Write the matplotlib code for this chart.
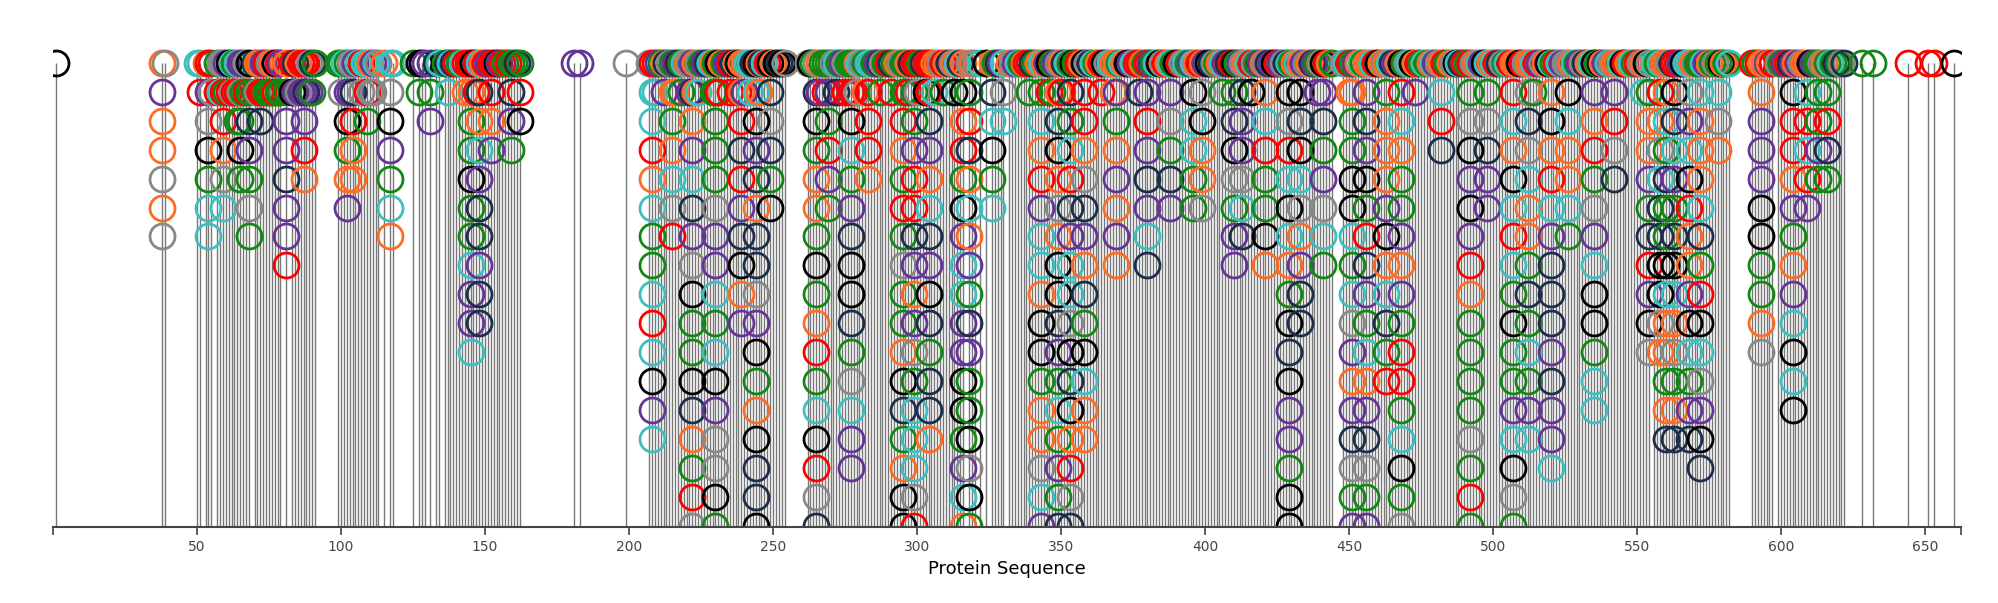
import matplotlib
matplotlib.use("Agg")
from matplotlib import pyplot as plt

# colour codes used in the stacks below
palette = {
    "K": "#000000", "O": "#ff6b22", "T": "#3bbfbf", "P": "#663399",
    "G": "#888888", "N": "#118811", "R": "#ff0000", "D": "#1c2e4a",
}

# tall stacks: position -> circle colours from top row downwards
stacks = {
    1: "K", 38: "OPOOGOG", 39: "G",
    54: "RPGKNTT", 59: "GRROGT", 64: "TRN", 65: "PGNKN", 68: "KNDPNGN", 72: "ORD",
    81: "ONPPDPPR", 87: "RPPRO",
    102: "NPKNOP", 104: "GDROO", 109: "TRN", 117: "TGKPNTO",
    127: "KN", 131: "PNP", 137: "DT",
    145: "RONNKNNTPPT", 148: "TDOTPDDPDD", 152: "RROP", 159: "NDPN",
    181: "P", 183: "P", 199: "G",
    208: "RTTROTNNTRTKPT", 215: "NONOTGR", 222: "PDOPTDPGKNNKDONRG",
    230: "NNNNNGPPTNTKPGGKN", 239: "OORDRPDKOP", 244: "KTKPDODDGPKNOKDDK",
    249: "KDGDNK", 265: "GDKNOONKNORNTKRGD", 269: "NPNRPN",
    277: "NRKTNPDKKDNGTPP", 283: "TRRRO", 295: "NNRONRNGNNOKDNOKK",
    299: "RNNPRRDPOPGNTTTGR", 304: "RRDPOTDPKDNDDO",
    316: "OKORNKPTTPPKKNPTO", 318: "GNRDOTOPNDPNNKGKN",
    326: "ODTKNT", 330: "TGT", 343: "TNTORPTTOKKNOOGTP",
    349: "GODKOGOKKDPNTNPND", 353: "NDNTRDPTTGKDKORGD", 358: "KRROGDPODNKTOO",
    369: "OPNOPOPO", 380: "RPRPDPTD", 388: "TPGNDP", 396: "TKTTNN", 399: "OGKOOG",
    410: "KNDKGNPP", 413: "GDPPGTD", 421: "GOTRNNKO",
    429: "TKGRTKTONKDKPPNKK", 433: "OKDKTGOPDD", 441: "KPDNPGTN",
    451: "NONNKKTNTGPOPDGNP", 456: "OPDPKNRDPNTOPDGNP", 463: "ONOOOPKOTDNR",
    468: "KRTONNPOPNRRNTKNG", 482: "OTRD", 492: "RNGKPKPRONNNNGNRN", 498: "TNGDPP",
    507: "ORTOKTRTNKNNPTKGN", 512: "OGDGTOONDNTNPT", 520: "TOKORTPDDDPDPPT",
    526: "GKTOOTN", 535: "KPORNGPTKKNTT", 542: "OPRGD",
    554: "GNOOPNDRPKG", 558: "TROGTDDKKGO", 560: "OOTNDNNKTOONOD",
    563: "RKDTPNDKTOGNOD", 568: "TGPTKROOPKTNPD", 572: "NTOOOTDNRKTGPKD",
    578: "NTGO", 593: "OOPPPKKNNOG", 604: "PKRROPNOPTKTK", 609: "OTRTRP",
    613: "NNNPN", 616: "NNRDN", 622: "D", 628: "N", 632: "N",
    644: "R", 651: "R", 653: "R", 660: "K",
}

# short stacks filling the dense stretches
fillers = {
    50: "T", 51: "TR", 53: "O", 55: "RG", 57: "NR", 58: "GT", 60: "PN", 61: "KR",
    62: "TG", 63: "NR", 66: "PN", 67: "GR", 70: "DN", 71: "OG", 73: "PR", 74: "RN",
    75: "GN", 76: "ON", 77: "KR", 78: "RN", 79: "PN", 83: "RK", 84: "DP", 85: "OG",
    86: "RP", 88: "RD", 89: "GP", 90: "DN", 91: "N",
    99: "N", 100: "NG", 101: "T", 103: "GP", 105: "P", 106: "T", 107: "RG", 108: "T",
    110: "OG", 111: "PG", 112: "T", 113: "G", 115: "O", 118: "T",
    125: "N", 128: "K", 129: "P", 133: "D", 134: "T", 136: "N", 138: "T", 139: "D",
    140: "R", 141: "N", 142: "T", 143: "RO", 144: "R", 146: "K", 147: "RR", 149: "O",
    150: "R", 151: "P", 153: "R", 154: "K", 155: "P", 156: "R", 157: "N", 158: "R",
    160: "N", 161: "D", 162: "NRK",
    207: "G", 209: "RT", 210: "P", 211: "N", 212: "OP", 213: "D", 214: "G", 216: "PO",
    217: "D", 218: "NN", 219: "T", 220: "O", 221: "GP", 223: "OO", 224: "GT", 225: "N",
    226: "P", 227: "D", 228: "T", 229: "ON", 231: "KR", 232: "O", 233: "N", 234: "P",
    235: "RR", 236: "D", 237: "O", 238: "KR", 240: "OP", 241: "T", 242: "TT", 243: "D",
    245: "OO", 246: "D", 247: "T", 248: "R", 250: "O", 251: "K", 252: "D", 253: "K",
    254: "G", 262: "G", 263: "K", 264: "N", 266: "OP", 267: "N", 268: "NR", 270: "N",
    271: "G", 272: "TD", 273: "N", 274: "P", 275: "GR", 276: "N", 278: "NR", 279: "OG",
    280: "T", 281: "G", 282: "NO", 284: "T", 285: "N", 286: "P", 287: "DN", 288: "G",
    289: "N", 290: "R", 291: "DR", 292: "N", 293: "O", 294: "G", 296: "NN", 297: "OR",
    298: "D", 300: "RG", 301: "N", 302: "D", 303: "RK", 305: "R", 306: "OT", 307: "O",
    308: "G", 309: "RN", 310: "O", 311: "D", 312: "G", 313: "OK", 314: "T", 315: "D",
    319: "O", 320: "G", 322: "T", 324: "K", 327: "N", 328: "D", 329: "P", 332: "O",
    333: "G", 334: "P", 335: "T", 336: "N", 337: "O", 338: "R", 339: "RN", 340: "D",
    341: "N", 342: "O", 344: "O", 345: "P", 346: "KR", 347: "NN", 348: "P", 350: "OR",
    351: "D", 352: "T", 354: "K", 355: "N", 356: "R", 357: "O", 359: "G", 360: "D",
    361: "T", 362: "N", 363: "O", 364: "RR", 365: "K", 366: "G", 367: "T", 368: "OO",
    370: "N", 371: "T", 372: "O", 373: "K", 374: "P", 375: "T", 376: "R", 377: "RD",
    378: "O", 379: "N", 381: "P", 382: "N", 383: "T", 384: "K", 385: "G", 386: "R",
    387: "O", 389: "N", 390: "K", 391: "R", 392: "G", 393: "T", 394: "N", 395: "P",
    397: "O", 398: "R", 400: "P", 401: "K", 402: "D", 403: "G", 404: "N", 405: "O",
    406: "TN", 407: "P", 408: "D", 409: "R", 411: "N", 412: "P", 414: "O", 415: "T",
    416: "RK", 417: "G", 418: "N", 419: "P", 420: "O", 422: "D", 423: "P", 424: "K",
    425: "R", 426: "P", 427: "G", 428: "D", 430: "N", 431: "O", 432: "T", 434: "P",
    435: "G", 436: "O", 437: "D", 438: "P", 439: "NP", 440: "G", 442: "R", 443: "O",
    444: "N", 448: "G", 449: "T", 450: "RO", 452: "P", 453: "O", 454: "T", 455: "N",
    457: "O", 458: "T", 459: "R", 460: "K", 461: "O", 462: "G", 464: "T", 465: "D",
    466: "P", 467: "O", 469: "N", 470: "G", 471: "T", 472: "K", 473: "OP", 474: "R",
    475: "N", 476: "T", 477: "N", 478: "O", 479: "T", 480: "P", 481: "G", 483: "R",
    484: "N", 485: "O", 486: "G", 487: "K", 488: "T", 489: "D", 490: "R", 491: "N",
    493: "G", 494: "O", 495: "T", 496: "P", 497: "K", 499: "O", 500: "T", 501: "R",
    502: "D", 503: "G", 504: "N", 505: "T", 506: "R", 508: "O", 509: "K", 510: "R",
    511: "G", 513: "O", 514: "TN", 515: "R", 516: "P", 517: "G", 518: "O", 519: "K",
    521: "N", 522: "R", 523: "T", 524: "P", 525: "G", 527: "O", 528: "T", 529: "N",
    530: "P", 531: "G", 532: "D", 533: "O", 534: "T", 536: "N", 537: "K", 538: "O",
    539: "P", 540: "T", 541: "G", 543: "O", 544: "T", 545: "K", 546: "R", 547: "O",
    548: "T", 549: "N", 550: "R", 551: "G", 552: "OT", 553: "K", 556: "T", 557: "N",
    559: "O", 561: "G", 562: "D", 564: "R", 565: "P", 566: "K", 567: "T", 569: "O",
    570: "G", 571: "N", 573: "T", 574: "P", 575: "O", 576: "N", 577: "G", 579: "K",
    580: "O", 581: "N", 582: "T", 590: "R", 591: "N", 592: "R", 594: "O", 595: "P",
    596: "O", 597: "R", 599: "G", 600: "N", 601: "P", 602: "R", 603: "D", 605: "O",
    606: "P", 607: "G", 608: "O", 610: "K", 611: "P", 612: "N", 614: "G", 615: "O",
    617: "T", 618: "N", 619: "D", 620: "N", 621: "G",
}

x_ticks = [50, 100, 150, 200, 250, 300, 350, 400, 450, 500, 550, 600, 650]
x_max = 662.5
y_floor = -16.05

all_stacks = dict(fillers)
all_stacks.update(stacks)

fig = plt.figure(figsize=(19.99, 6.03), dpi=100)
ax = fig.add_axes([0.0265, 0.126, 0.9545, 0.808])

positions = sorted(all_stacks)
ax.vlines(positions, y_floor, 0, color="#777777", linewidth=1.0, zorder=1)

for pos in positions:
    for row, code in enumerate(all_stacks[pos]):
        ax.plot(pos, -row, marker="o", markersize=18, fillstyle="none",
                markeredgewidth=2.0, color=palette[code], zorder=2)

ax.set_xlim(0, x_max)
ax.set_ylim(y_floor, 0.8)
for side in ["left", "right", "top"]:
    ax.spines[side].set_visible(False)
ax.spines["bottom"].set_color("#444444")
ax.spines["bottom"].set_linewidth(1.5)
ax.set_yticks([])
ax.set_xticks([0] + x_ticks + [x_max])
ax.set_xticklabels([""] + [str(t) for t in x_ticks] + [""], fontsize=10, color="#444444")
ax.tick_params(axis="x", length=6, width=1.2, color="#444444")
ax.set_xlabel("Protein Sequence", fontsize=13, labelpad=4)

fig.savefig("out.png", dpi=100)
